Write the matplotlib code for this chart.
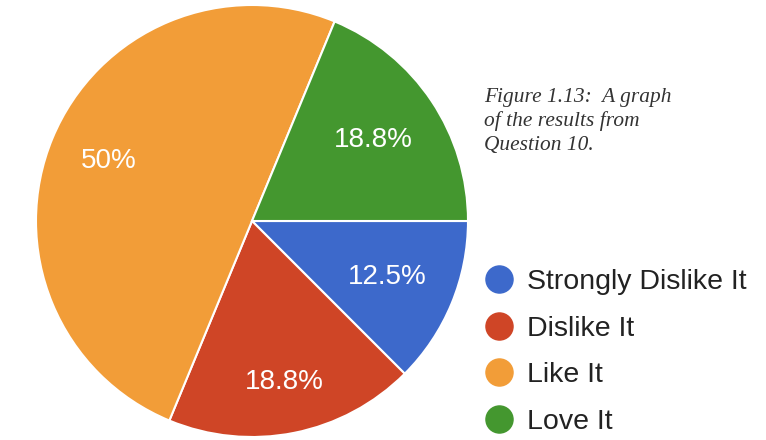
import numpy as np
import matplotlib.pyplot as plt
from matplotlib.lines import Line2D

# survey answers for question 10 (percent of respondents)
labels = ["Strongly Dislike It", "Dislike It", "Like It", "Love It"]
shares = [12.5, 18.75, 50.0, 18.75]
colors = ["#3d69cb", "#cf4526", "#f29d38", "#44972f"]
caption = "Figure 1.13:  A graph\nof the results from\nQuestion 10."

# how far out each percent label sits (fraction of radius)
label_dist = [0.68, 0.76, 0.72, 0.675]

fig = plt.figure(figsize=(7.66, 4.40), dpi=100)

# pie axes placed in pixel terms: circle spans x 36..468, y 5..437
W, H = 766, 440
r = 216
cx, cy = 252, 221
ax = fig.add_axes([(cx - r) / W, (H - cy - r) / H, 2 * r / W, 2 * r / H])

wedges, texts, autotexts = ax.pie(
    shares, colors=colors, startangle=0, counterclock=False,
    autopct=lambda p: "%g%%" % round(p, 1), pctdistance=0.71, radius=1.0,
    wedgeprops=dict(edgecolor="white", linewidth=1.5),
    textprops=dict(color="white", fontsize=20, family="Liberation Sans"),
)
for w, t, d in zip(wedges, autotexts, label_dist):
    mid = np.deg2rad((w.theta1 + w.theta2) / 2)
    t.set_position((d * np.cos(mid), d * np.sin(mid)))

ax.set_xlim(-1.0, 1.0)
ax.set_ylim(-1.0, 1.0)
ax.set_aspect("equal")
ax.axis("off")

# legend with round markers
handles = [Line2D([], [], marker="o", linestyle="none", markersize=19.5,
                  markerfacecolor=c, markeredgecolor=c) for c in colors]
leg = fig.legend(handles, labels, loc="upper left",
                 bbox_to_anchor=(471 / W, 1 - 258 / H),
                 frameon=False, handletextpad=0.35, labelspacing=0.72,
                 handlelength=1.2, borderaxespad=0,
                 prop=dict(family="Liberation Sans", size=20.5))
for t in leg.get_texts():
    t.set_color("#222222")

# caption
fig.text(484 / W, 1 - 88 / H, caption, ha="left", va="top",
         fontsize=15.4, style="italic", family="Liberation Serif",
         color="#333333", linespacing=1.3)

fig.savefig("out.png", dpi=100, facecolor="white")
